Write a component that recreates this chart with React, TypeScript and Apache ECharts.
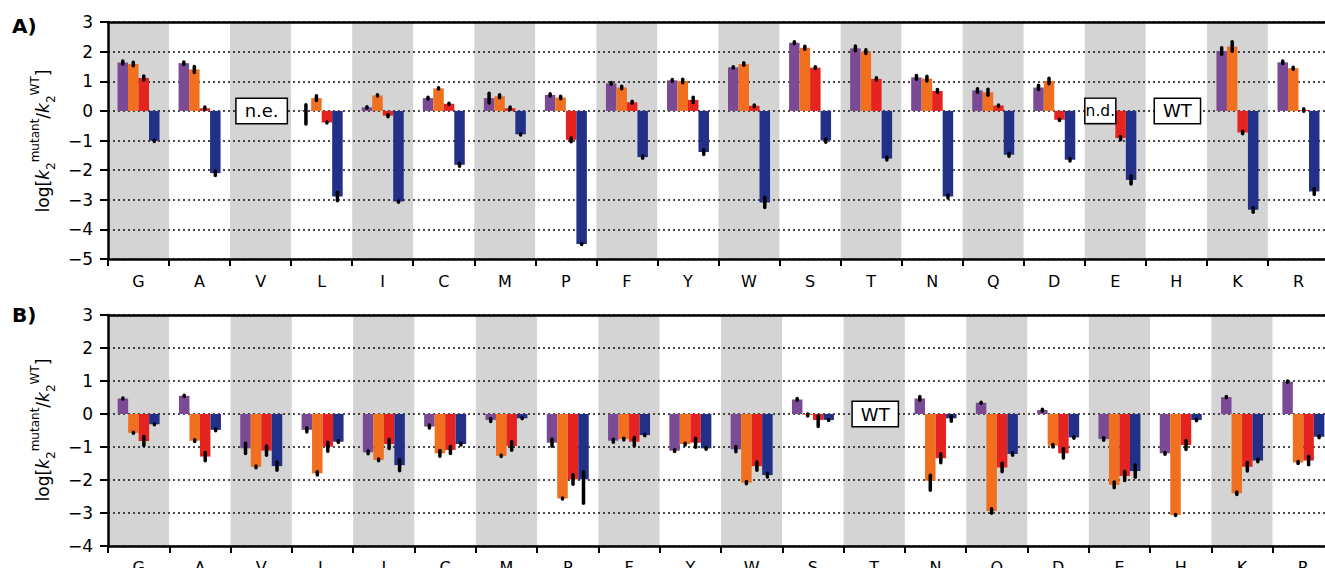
import React, { useEffect, useRef } from "react";
import * as echarts from "echarts";

type Err = number | [number, number] | null;

const categories = ["G", "A", "V", "L", "I", "C", "M", "P", "F", "Y", "W", "S", "T", "N", "Q", "D", "E", "H", "K", "R"];
const yTicksA = { min: -5, max: 3 };
const yTicksB = { min: -4, max: 3 };
const seriesColors = ["#7b4a94", "#f07020", "#e5231f", "#223088"];

// Panel A values
const purpleA = [1.63, 1.61, null, 0.02, 0.12, 0.43, 0.43, 0.54, 0.93, 1.03, 1.47, 2.3, 2.11, 1.13, 0.69, 0.79, null, null, 2.02, 1.64];
const orangeA = [1.58, 1.4, null, 0.43, 0.52, 0.76, 0.49, 0.45, 0.79, 1.01, 1.58, 2.13, 2.0, 1.09, 0.63, 1.01, null, null, 2.17, 1.44];
const redA = [1.11, 0.09, null, -0.39, -0.16, 0.24, 0.09, -0.98, 0.29, 0.37, 0.17, 1.46, 1.08, 0.67, 0.18, -0.3, -0.92, null, -0.73, 0.03];
const blueA = [-1.01, -2.1, null, -2.89, -3.06, -1.82, -0.79, -4.49, -1.56, -1.39, -3.09, -1.0, -1.61, -2.89, -1.48, -1.65, -2.33, null, -3.34, -2.72];
// Panel A error bars (half-lengths, or [down, up])
const errPurpleA: Err[] = [0.11, 0.1, null, [0.52, 0.25], 0.08, 0.09, 0.22, 0.1, 0.09, 0.09, 0.08, 0.09, 0.14, 0.12, 0.12, 0.13, null, null, 0.17, 0.1];
const errOrangeA: Err[] = [0.12, 0.16, null, 0.14, 0.08, 0.08, 0.11, 0.1, 0.1, 0.12, 0.1, 0.11, 0.12, 0.14, 0.16, 0.15, null, null, 0.22, 0.09];
const errRedA: Err[] = [0.13, 0.1, null, 0.07, 0.1, 0.08, 0.1, 0.12, 0.09, 0.15, 0.09, 0.09, 0.1, 0.11, 0.08, 0.08, 0.11, null, 0.1, 0.1];
const errBlueA: Err[] = [0.08, 0.14, null, 0.2, 0.08, 0.11, 0.08, 0.07, 0.1, 0.14, 0.23, 0.12, 0.11, 0.11, 0.11, 0.1, 0.2, null, 0.14, 0.16];

// Panel B values
const purpleB = [0.47, 0.55, -1.04, -0.48, -1.16, -0.38, -0.18, -0.87, -0.81, -1.11, -1.07, 0.44, null, 0.47, 0.34, 0.12, -0.76, -1.19, 0.51, 0.98];
const orangeB = [-0.57, -0.81, -1.6, -1.8, -1.39, -1.19, -1.27, -2.56, -0.76, -0.91, -2.08, -0.03, null, -2.02, -2.94, -0.96, -2.15, -3.06, -2.4, -1.47];
const redB = [-0.82, -1.29, -1.11, -0.99, -0.91, -1.09, -0.97, -1.98, -0.84, -0.87, -1.58, -0.18, null, -1.34, -1.62, -1.19, -1.88, -0.94, -1.6, -1.41];
const blueB = [-0.31, -0.48, -1.58, -0.84, -1.55, -0.91, -0.13, -1.98, -0.64, -1.04, -1.85, -0.18, null, -0.13, -1.21, -0.71, -1.73, -0.18, -1.41, -0.69];
const errPurpleB: Err[] = [0.06, 0.07, 0.21, 0.12, 0.1, 0.1, 0.1, 0.16, 0.1, 0.08, 0.13, 0.08, null, 0.11, 0.06, 0.08, 0.09, 0.08, 0.07, 0.07];
const errOrangeB: Err[] = [0.07, 0.08, 0.08, 0.1, 0.08, 0.14, 0.07, 0.07, 0.08, 0.08, 0.09, 0.08, null, [0.34, 0.22], 0.12, 0.09, 0.14, 0.07, 0.09, 0.08];
const errRedB: Err[] = [0.19, 0.18, 0.19, 0.19, 0.19, 0.16, 0.18, 0.2, 0.18, 0.19, 0.18, [0.25, 0.18], null, 0.19, 0.18, 0.2, 0.19, 0.19, 0.18, 0.18];
const errBlueB: Err[] = [0.07, 0.08, 0.18, 0.08, 0.22, 0.08, 0.07, [0.78, 0.28], 0.07, 0.08, 0.11, 0.07, null, 0.14, 0.09, 0.08, 0.24, 0.08, 0.09, 0.08];

// Annotation boxes: [category, text]
const boxesA: [string, string][] = [["V", "n.e."], ["E", "n.d."], ["H", "WT"]];
const boxesB: [string, string][] = [["T", "WT"]];

const FONT = "DejaVu Sans";
const BAR_W = 10.5;
const ERR_W = 3.5;

function errData(vals: (number | null)[][], errs: Err[][]) {
  const out: number[][] = [];
  vals.forEach((arr, s) => {
    arr.forEach((v, i) => {
      const e = errs[s][i];
      if (v == null || e == null) return;
      const down = Array.isArray(e) ? e[0] : e;
      const up = Array.isArray(e) ? e[1] : e;
      out.push([i, s, v - down, v + up]);
    });
  });
  return out;
}

const renderErr = (params: any, api: any) => {
  const cat = api.value(0);
  const s = api.value(1);
  const lo = api.value(2);
  const hi = api.value(3);
  const a = api.coord([cat, hi]);
  const b = api.coord([cat, lo]);
  const x = a[0] + (s - 1.5) * BAR_W;
  let y1 = a[1];
  let y2 = b[1];
  const cap = ERR_W / 2;
  if (y2 - y1 > 2 * cap + 1) {
    y1 += cap;
    y2 -= cap;
  } else {
    const m = (y1 + y2) / 2;
    y1 = m - 0.5;
    y2 = m + 0.5;
  }
  return {
    type: "line",
    shape: { x1: x, y1, x2: x, y2 },
    style: { stroke: "#000", lineWidth: ERR_W, lineCap: "round" },
  };
};

const minusFmt = (v: number) => String(v).replace("-", "\u2212");

function xAxes(gridIndex: number, labelMargin: number) {
  return [
    {
      type: "category",
      gridIndex,
      data: categories,
      position: "bottom",
      z: -1,
      axisLine: { show: true, onZero: false, lineStyle: { color: "#000", width: 2.5 } },
      axisTick: { show: true, length: 7, interval: 0, lineStyle: { color: "#000", width: 2 } },
      axisLabel: { show: true, interval: 0, fontSize: 16, margin: labelMargin, color: "#000", fontFamily: FONT },
      splitLine: { show: false },
      splitArea: { show: true, interval: 0, areaStyle: { color: ["#d4d4d4", "#ffffff"] } },
    },
    {
      type: "category",
      gridIndex,
      data: categories,
      position: "top",
      z: 3,
      axisLine: { show: true, onZero: false, lineStyle: { color: "#000", width: 2.5 } },
      axisTick: { show: false },
      axisLabel: { show: false },
      splitLine: { show: false },
      splitArea: { show: false },
    },
  ];
}

function yAxis(gridIndex: number, min: number, max: number) {
  return {
    type: "value",
    gridIndex,
    min,
    max,
    interval: 1,
    z: 1,
    axisLine: { show: true, lineStyle: { color: "#000", width: 2.5 } },
    axisTick: { show: true, length: 8, lineStyle: { color: "#000", width: 2 } },
    axisLabel: { fontSize: 17, margin: 15, color: "#000", fontFamily: FONT, formatter: minusFmt },
    splitLine: { show: true, lineStyle: { color: "#111", width: 1.7, type: [2, 3] } },
  };
}

function panelSeries(
  xi: number,
  yi: number,
  vals: (number | null)[][],
  errs: Err[][],
  boxes: [string, string][]
) {
  const bars = vals.map((arr, s) => ({
    type: "bar",
    xAxisIndex: xi,
    yAxisIndex: yi,
    data: arr,
    barWidth: BAR_W,
    barGap: "0%",
    itemStyle: { color: seriesColors[s] },
    z: 2,
  }));
  const err = {
    type: "custom",
    xAxisIndex: xi,
    yAxisIndex: yi,
    data: errData(vals, errs),
    renderItem: renderErr,
    encode: { x: 0, y: [2, 3] },
    z: 4,
    silent: true,
  };
  const box = {
    type: "scatter",
    xAxisIndex: xi,
    yAxisIndex: yi,
    symbolSize: 1,
    itemStyle: { color: "rgba(0,0,0,0)" },
    z: 6,
    data: boxes.map(([c, t]) => {
      const nd = t === "n.d.";
      return {
        value: [categories.indexOf(c), 0],
        label: {
          show: true,
          position: "inside",
          formatter: t,
          color: "#000",
          opacity: 1,
          fontFamily: FONT,
          fontSize: nd ? 15.5 : 18,
          lineHeight: 19,
          backgroundColor: "#fff",
          borderColor: "#000",
          borderWidth: 1.5,
          padding: nd ? [3, 0, 2, 0] : [3, 8, 2, 8],
          offset: nd ? [-15, 0] : [1, 0],
        },
      };
    }),
  };
  return [...bars, err, box];
}

const yLabelRich = {
  b: { fontSize: 17, fontFamily: FONT, lineHeight: 28, verticalAlign: "middle", fill: "#000" },
  i: { fontSize: 17, fontFamily: FONT, fontStyle: "italic", lineHeight: 28, verticalAlign: "middle", fill: "#000" },
  sub: { fontSize: 12, fontFamily: FONT, lineHeight: 12, verticalAlign: "bottom", fill: "#000" },
  sup: { fontSize: 12, fontFamily: FONT, lineHeight: 12, verticalAlign: "top", fill: "#000" },
};
const yLabelText = "{b|log[}{i|k}{sub|2}{sup|mutant}{b|/}{i|k}{sub|2}{sup|WT}{b|]}";

export default function App() {
  const ref = useRef<HTMLDivElement>(null);
  useEffect(() => {
    if (!ref.current) return;
    const chart = echarts.init(ref.current, undefined, { renderer: "svg" });
    const option: any = {
      animation: false,
      backgroundColor: "#fff",
      textStyle: { fontFamily: FONT },
      grid: [
        { left: 108, top: 22, width: 1221, height: 237, containLabel: false, outerBoundsMode: "none" },
        { left: 108, top: 315, width: 1226, height: 231, containLabel: false, outerBoundsMode: "none" },
      ],
      xAxis: [...xAxes(0, 14), ...xAxes(1, 13)],
      yAxis: [yAxis(0, yTicksA.min, yTicksA.max), yAxis(1, yTicksB.min, yTicksB.max)],
      series: [
        ...panelSeries(0, 0, [purpleA, orangeA, redA, blueA], [errPurpleA, errOrangeA, errRedA, errBlueA], boxesA),
        ...panelSeries(2, 1, [purpleB, orangeB, redB, blueB], [errPurpleB, errOrangeB, errRedB, errBlueB], boxesB),
      ],
      graphic: [
        { type: "text", x: 12, y: 26, style: { text: "A)", fontSize: 20, fontWeight: "bold", fontFamily: FONT, fill: "#000", verticalAlign: "middle" } },
        { type: "text", x: 12, y: 315, style: { text: "B)", fontSize: 20, fontWeight: "bold", fontFamily: FONT, fill: "#000", verticalAlign: "middle" } },
        { type: "text", x: 43, y: 141, rotation: Math.PI / 2, style: { text: yLabelText, rich: yLabelRich, align: "center", verticalAlign: "middle", fill: "#000" } },
        { type: "text", x: 43, y: 430, rotation: Math.PI / 2, style: { text: yLabelText, rich: yLabelRich, align: "center", verticalAlign: "middle", fill: "#000" } },
      ],
    };
    chart.setOption(option);
    return () => chart.dispose();
  }, []);
  return (
    <div style={{ position: "fixed", left: 0, top: 0, width: "100vw", height: "100vh", overflow: "hidden", background: "#fff" }}>
      <div ref={ref} style={{ width: 1340, height: 568 }} />
    </div>
  );
}
